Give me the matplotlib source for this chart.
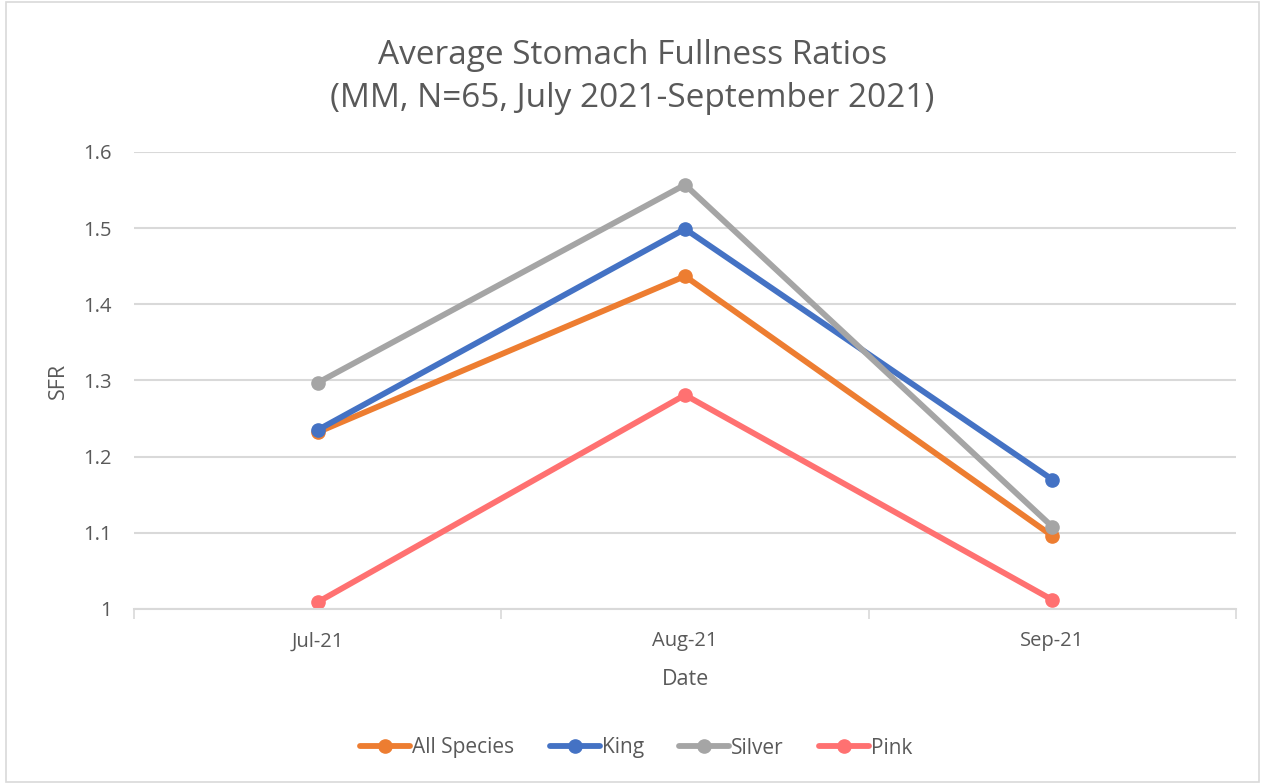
import matplotlib
matplotlib.use("Agg")
import matplotlib.pyplot as plt
from matplotlib.patches import Rectangle

dates = ["Jul-21", "Aug-21", "Sep-21"]
all_species = [1.232, 1.437, 1.096]
king = [1.235, 1.499, 1.170]
silver = [1.297, 1.557, 1.108]
pink = [1.009, 1.281, 1.012]

series = [
    ("All Species", all_species, "#ED7D31"),
    ("King", king, "#4472C4"),
    ("Silver", silver, "#A5A5A5"),
    ("Pink", pink, "#FF7171"),
]

plt.rcParams['font.family'] = ['Open Sans', 'DejaVu Sans']
txt = "#595959"

fig = plt.figure(figsize=(12.65, 7.84), dpi=100)
fig.patches.append(Rectangle((0.005, 0.003), 0.99, 0.994, transform=fig.transFigure,
                             fill=False, edgecolor="#D9D9D9", linewidth=1.2))
ax = fig.add_axes([134/1265, 1-609/784, (1236-134)/1265, (609-152)/784])

x = list(range(len(dates)))
for name, vals, col in series:
    ax.plot(x, vals, color=col, linewidth=4.2, marker='o', markersize=9.5,
            label=name, solid_capstyle='round')

ax.set_xlim(-0.5, len(dates)-0.5)
ax.set_ylim(1.0, 1.6)
ax.set_yticks([1.0, 1.1, 1.2, 1.3, 1.4, 1.5, 1.6])
ax.set_yticklabels(["1", "1.1", "1.2", "1.3", "1.4", "1.5", "1.6"])
ax.set_xticks(x)
ax.set_xticklabels(dates)
ax.set_xticks([-0.5, 0.5, 1.5, 2.5], minor=True)
ax.tick_params(axis='x', which='major', length=0, pad=16, labelsize=14.5, labelcolor=txt)
ax.tick_params(axis='x', which='minor', length=7, color="#D9D9D9", width=1.2)
ax.tick_params(axis='y', length=0, pad=16, labelsize=14.5, labelcolor=txt)
ax.grid(axis='y', color="#D9D9D9", linewidth=1.5)
ax.set_axisbelow(True)
for s in ['top', 'right', 'left']:
    ax.spines[s].set_visible(False)
ax.spines['bottom'].set_color("#D9D9D9")
ax.spines['bottom'].set_linewidth(1.5)

ax.set_xlabel("Date", fontsize=15.5, color=txt, labelpad=13)
ax.set_ylabel("SFR", fontsize=15.5, color=txt, labelpad=10)

fig.text(0.5, 1-77/784, "Average Stomach Fullness Ratios\n(MM, N=65, July 2021-September 2021)",
         ha='center', va='center', fontsize=24, color=txt, linespacing=1.42)

leg = fig.legend(loc='center', bbox_to_anchor=(0.503, 1-748/784), ncol=4, frameon=False,
                 fontsize=15, labelcolor=txt, handlelength=2.4, columnspacing=1.7,
                 handletextpad=0.1)

fig.savefig("out.png", dpi=100)
